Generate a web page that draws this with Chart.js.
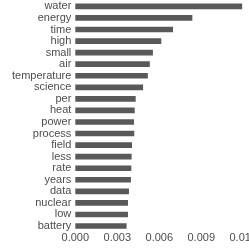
<!DOCTYPE html>
<html>
<head>
<meta charset="utf-8">
<script src="https://cdn.jsdelivr.net/npm/chart.js@4/dist/chart.umd.min.js"></script>
<style>
  html, body { margin: 0; padding: 0; background: #fff; overflow: hidden; }
  #wrap { width: 249px; height: 249px; overflow: hidden; position: relative; }
  #termChart { position: absolute; left: 0; top: -10px; }
</style>
</head>
<body>
<div id="wrap"><canvas id="termChart" width="257" height="255"></canvas></div>
<script>
const words = ['water', 'energy', 'time', 'high', 'small', 'air', 'temperature', 'science', 'per', 'heat',
  'power', 'process', 'field', 'less', 'rate', 'years', 'data', 'nuclear', 'low', 'battery'];
const weights = [0.0119, 0.00834, 0.00696, 0.00612, 0.00552, 0.0053, 0.00516, 0.00482, 0.00429, 0.00422,
  0.00417, 0.00419, 0.00403, 0.004, 0.00398, 0.00395, 0.00381, 0.00374, 0.00374, 0.00364];
const xTicks = [0, 0.003, 0.006, 0.009, 0.012];

document.addEventListener('DOMContentLoaded', function () {
    const ctx = document.getElementById('termChart').getContext('2d');
    new Chart(ctx, {
        type: 'bar',
        data: {
            labels: words,
            datasets: [{
                data: weights,
                backgroundColor: '#595959',
                barThickness: 5
            }]
        },
        options: {
            indexAxis: 'y',
            responsive: false,
            animation: false,
            layout: { padding: { top: 0, left: 8, right: 0, bottom: 0 } },
            plugins: {
                legend: { display: false },
                tooltip: { enabled: false }
            },
            scales: {
                x: {
                    min: 0,
                    max: 0.012,
                    grid: { display: false, drawTicks: false },
                    border: { display: false },
                    afterBuildTicks: function (axis) {
                        axis.ticks = xTicks.map(function (v) { return { value: v }; });
                    },
                    ticks: {
                        color: '#4d4d4d',
                        font: { family: 'Liberation Sans', size: 11 },
                        maxRotation: 0,
                        padding: 0,
                        callback: function (value) { return value.toFixed(3); }
                    }
                },
                y: {
                    grid: { display: false, drawTicks: false },
                    border: { display: false },
                    ticks: {
                        color: '#4d4d4d',
                        font: { family: 'Liberation Sans', size: 11 },
                        padding: 4,
                        autoSkip: false
                    }
                }
            }
        }
    });
});
</script>
</body>
</html>
